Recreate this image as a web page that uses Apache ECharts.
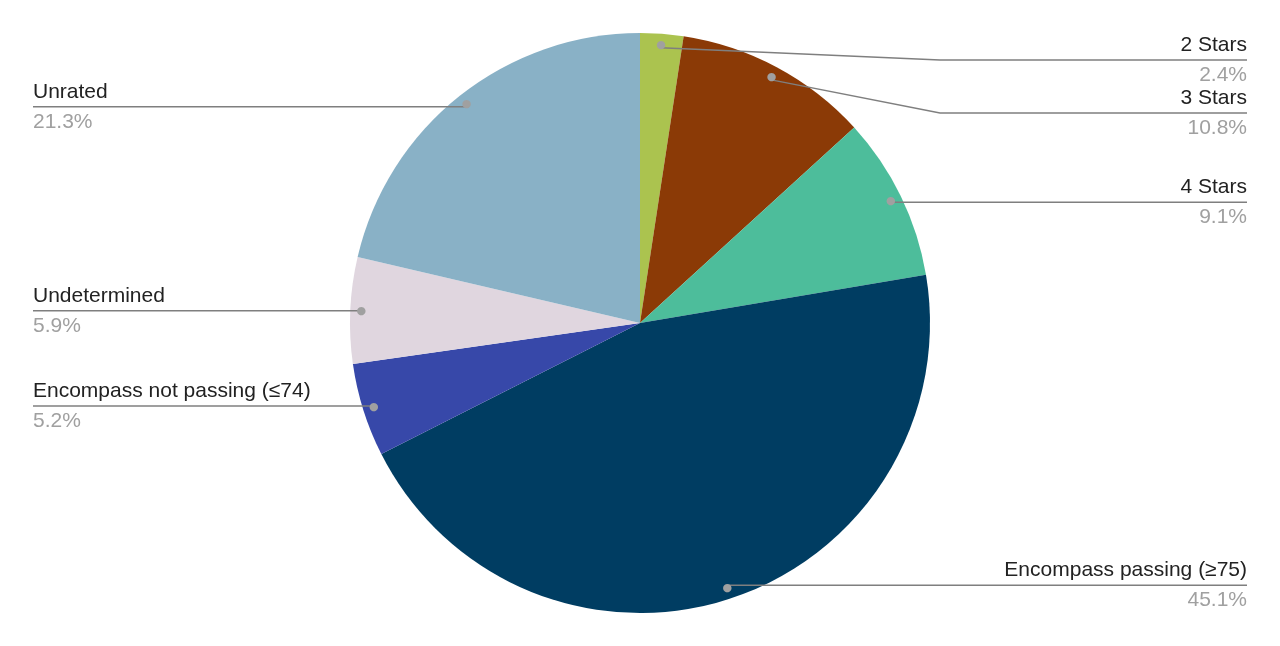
<!DOCTYPE html>
<html>
<head>
<meta charset="utf-8">
<script src="https://cdn.jsdelivr.net/npm/echarts@6/dist/echarts.min.js"></script>
<style>
html,body{margin:0;padding:0;background:#fff;}
#chart{width:1280px;height:646px;}
</style>
</head>
<body>
<div id="chart"></div>
<script>
// ---- data ----
const categories = ['2 Stars', '3 Stars', '4 Stars', 'Encompass passing (≥75)', 'Encompass not passing (≤74)', 'Undetermined', 'Unrated'];
const values = [2.4, 10.8, 9.1, 45.1, 5.2, 5.9, 21.3];
const colors = ['#abc34f', '#8b3a06', '#4dbd9b', '#003d62', '#3748a9', '#e0d6df', '#89b1c6'];

// ---- layout constants ----
const CX = 640, CY = 323, R = 290, DOT_R = 276;
const GAP = 53, HALF = 27;

// label vertical placement (keeps labels level with their anchor dot, then resolves overlaps)
const total = values.reduce((a, b) => a + b, 0);
let cum = 0;
const mids = values.map(v => { const m = (cum + v / 2) / total; cum += v; return m * 2 * Math.PI; });
const isRight = mids.map(t => Math.sin(t) >= 0);
const dotY = mids.map(t => CY - DOT_R * Math.cos(t));
const labelY = new Array(values.length);
[true, false].forEach(side => {
  const idx = values.map((_, i) => i).filter(i => isRight[i] === side).sort((a, b) => dotY[a] - dotY[b]);
  let prev = -Infinity;
  idx.forEach(i => {
    const y = Math.max(dotY[i], prev + GAP, CY - R + HALF);
    labelY[i] = y; prev = y;
  });
});

const seriesData = categories.map((c, i) => ({ name: c, value: values[i], itemStyle: { color: colors[i] } }));
const plainData = categories.map((c, i) => ({ name: c, value: values[i] }));

const FONT = 'Liberation Sans, Arial, sans-serif';
const chart = echarts.init(document.getElementById('chart'), null, { renderer: 'canvas' });
chart.setOption({
  animation: false,
  backgroundColor: '#ffffff',
  series: [
    {
      type: 'pie',
      center: [CX, CY],
      radius: [0, R],
      startAngle: 90,
      clockwise: true,
      silent: true,
      label: { show: false },
      labelLine: { show: false },
      emphasis: { disabled: true },
      data: seriesData
    },
    {
      type: 'pie',
      center: [CX, CY],
      radius: [0, DOT_R],
      startAngle: 90,
      clockwise: true,
      silent: true,
      z: 3,
      itemStyle: { color: 'rgba(0,0,0,0)' },
      emphasis: { disabled: true },
      label: {
        show: true,
        position: 'outside',
        alignTo: 'edge',
        edgeDistance: 33,
        fontFamily: FONT,
        formatter: p => '{n|' + p.name + '}\n{p|' + p.value.toFixed(1) + '%}',
        rich: {
          n: { fontSize: 21, color: '#222222', lineHeight: 30, fontFamily: FONT },
          p: { fontSize: 21, color: '#a0a0a0', lineHeight: 30, fontFamily: FONT }
        }
      },
      labelLine: {
        show: true,
        length: 5,
        length2: 5,
        smooth: false,
        lineStyle: { color: '#7f7f7f', width: 1.5 }
      },
      labelLayout: function (p) {
        const i = p.dataIndex;
        const pts = p.labelLinePoints;
        if (!pts) return {};
        const p0 = pts[0];
        const y = labelY[i];
        const r = p.labelRect;
        const right = isRight[i];
        const endX = right ? r.x + r.width : r.x;
        const bendX = right ? Math.max(p0[0], CX + R + 10) : Math.min(p0[0], CX - R - 10);
        return { y: y, labelLinePoints: [p0, [bendX, y], [endX, y]] };
      },
      data: plainData
    },
    {
      type: 'pie',
      center: [CX, CY],
      radius: [2 * DOT_R - R, R],
      startAngle: 90,
      clockwise: true,
      silent: true,
      z: 4,
      itemStyle: { color: 'rgba(0,0,0,0)' },
      emphasis: { disabled: true },
      label: {
        show: true,
        position: 'inside',
        formatter: '●',
        fontSize: 11,
        color: '#a0a0a0',
        fontFamily: 'DejaVu Sans, sans-serif'
      },
      labelLine: { show: false },
      data: plainData
    }
  ]
});
</script>
</body>
</html>
